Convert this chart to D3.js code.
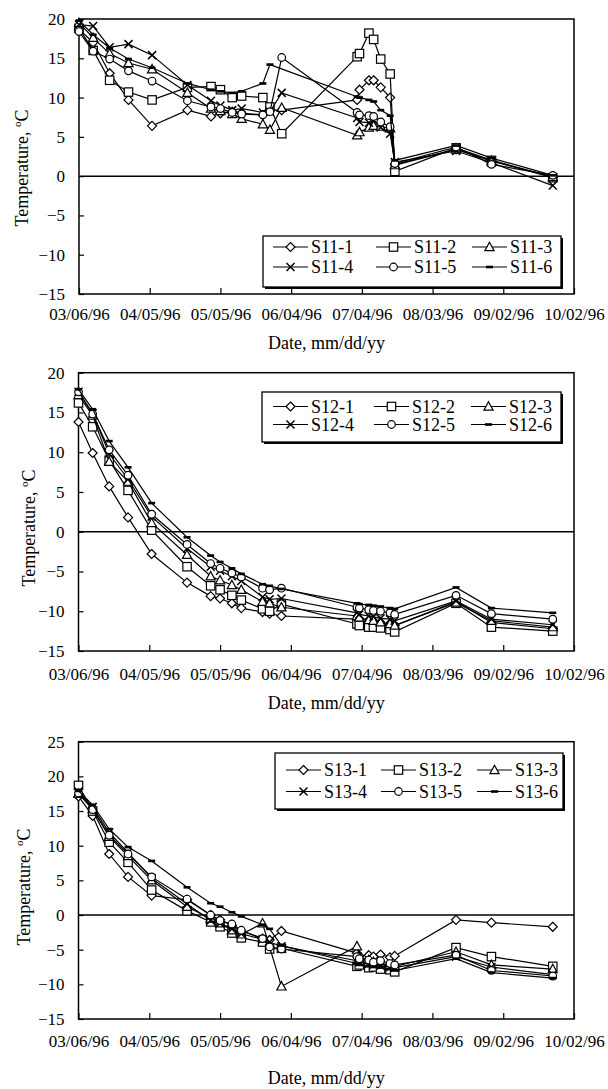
<!DOCTYPE html>
<html>
<head>
<meta charset="utf-8">
<script src="https://cdn.jsdelivr.net/npm/d3@7"></script>
<style>
  body { margin: 0; background: #fff; }
  text { font-family: "Liberation Serif", "Times New Roman", serif; fill: #000; }
</style>
</head>
<body>
<svg id="chart" width="608" height="1089"></svg>
<script>
// sampling dates (shared by all three sites)
const dates = ["03/06/96","03/12/96","03/19/96","03/27/96","04/06/96","04/21/96","05/01/96","05/05/96",
    "05/10/96","05/14/96","05/23/96","05/26/96","05/31/96","07/02/96","07/03/96","07/07/96","07/09/96",
    "07/12/96","07/16/96","07/18/96","08/13/96","08/28/96","09/23/96"]

const xTicks = ["03/06/96","04/05/96","05/05/96","06/04/96","07/04/96","08/03/96","09/02/96","10/02/96"]
const markers = ["diamond", "square", "triangle", "x", "circle", "dash"]

// site S11
const s11Names = ["S11-1","S11-2","S11-3","S11-4","S11-5","S11-6"]
const s11_1 = [18.7,17.0,13.1,9.7,6.4,8.4,7.6,8.0,8.2,8.0,7.8,8.4,8.4,9.7,11.0,12.2,12.2,11.3,10.0,1.5,3.4,2.0,-0.1]
const s11_2 = [18.8,16.0,12.2,10.7,9.7,11.3,11.4,11.0,10.0,10.2,10.0,8.8,5.4,15.2,15.6,18.2,17.4,14.9,13.0,0.6,3.6,2.0,-0.2]
const s11_3 = [19.5,17.6,15.6,14.4,13.6,10.6,8.6,8.3,7.9,7.3,6.6,5.9,8.7,5.2,5.6,6.2,6.4,6.3,6.1,1.4,3.4,1.9,-0.1]
const s11_4 = [19.3,19.1,16.4,16.8,15.4,11.6,9.6,9.0,8.4,8.6,8.1,8.2,10.6,7.4,6.9,6.8,7.1,6.2,5.4,1.8,3.2,1.7,-1.2]
const s11_5 = [18.4,15.9,14.9,13.4,12.1,9.6,8.8,8.6,8.1,7.9,7.8,8.2,15.1,8.1,7.8,7.7,7.6,6.9,6.3,1.6,3.7,1.5,0.1]
const s11_6 = [19.8,18.0,16.3,14.9,13.8,11.8,11.0,10.8,10.6,10.8,11.8,14.2,null,10.1,10.0,9.7,9.5,8.4,7.7,2.0,3.9,2.3,0.1]

// site S12
const s12Names = ["S12-1","S12-2","S12-3","S12-4","S12-5","S12-6"]
const s12_1 = [13.8,9.9,5.7,1.8,-2.8,-6.4,-8.1,-8.4,-9.0,-9.6,-10.1,-10.3,-10.6,-11.0,-11.1,-11.3,-11.4,-11.5,-11.7,-11.8,-8.8,-11.4,-12.2]
const s12_2 = [16.2,13.2,9.0,5.2,0.2,-4.4,-6.8,-7.3,-8.0,-8.6,-9.7,-10.0,-9.1,-11.6,-11.8,-12.0,-12.0,-12.1,-12.3,-12.6,-9.0,-12.0,-12.5]
const s12_3 = [17.2,14.6,8.8,6.3,1.1,-2.9,-5.6,-6.1,-6.7,-7.3,-8.8,-9.0,-9.5,-10.6,-10.8,-11.1,-11.2,-11.4,-11.6,-11.8,-8.9,-11.2,-12.0]
const s12_4 = [17.6,14.9,9.8,6.6,1.9,-2.1,-4.4,-4.9,-5.6,-6.2,-8.2,-8.5,-8.4,-10.2,-10.4,-10.6,-10.7,-10.9,-11.0,-11.2,-8.7,-11.0,-11.7]
const s12_5 = [17.6,14.8,10.3,7.1,2.2,-1.6,-4.0,-4.6,-5.2,-5.7,-7.1,-7.3,-7.1,-9.5,-9.6,-9.8,-9.9,-10.0,-10.2,-10.4,-8.0,-10.3,-11.0]
const s12_6 = [17.9,15.4,11.4,8.1,3.6,-0.7,-3.0,-3.8,-4.6,-5.3,-6.6,-6.8,-7.2,-9.0,-9.1,-9.2,-9.3,-9.4,-9.6,-9.7,-7.0,-9.6,-10.2]

// site S13
const s13Names = ["S13-1","S13-2","S13-3","S13-4","S13-5","S13-6"]
const s13_1 = [17.1,14.3,8.8,5.5,2.8,2.2,0.0,-0.7,-1.5,-2.3,-3.4,-3.6,-2.3,-5.5,-5.9,-5.8,-6.0,-5.7,-6.1,-5.9,-0.7,-1.1,-1.7]
const s13_2 = [18.7,15.0,10.5,7.6,3.6,0.6,-1.0,-1.7,-2.6,-3.3,-3.9,-4.9,-4.8,-7.4,-7.2,-7.6,-7.5,-7.8,-7.9,-8.2,-4.7,-6.0,-7.4]
const s13_3 = [17.5,15.3,11.3,8.5,5.0,1.2,-0.5,-1.2,-2.2,-2.8,-1.2,null,-10.3,-4.5,-6.0,-6.5,-6.8,-7.0,-7.2,-7.4,-5.3,-7.2,-7.8]
const s13_4 = [17.8,15.6,11.9,9.0,5.3,1.6,-0.8,-1.2,-2.0,-2.7,-3.5,-3.9,-4.5,-6.6,-6.8,-7.0,-7.2,-7.3,-7.5,-7.6,-6.0,-7.5,-8.6]
const s13_5 = [17.6,15.2,11.5,8.8,5.5,2.3,0.0,-0.8,-1.3,-2.2,-3.4,-4.6,-4.9,-6.0,-6.3,-6.5,-6.8,-6.6,-7.0,-7.2,-5.8,-8.0,-8.8]
const s13_6 = [17.9,15.9,12.4,9.8,7.8,4.0,1.7,1.2,0.4,-0.2,-1.4,-2.0,-4.4,-7.0,-7.2,-7.4,-7.5,-7.6,-7.8,-8.0,-6.3,-8.3,-9.1]

const parseDate = d3.timeParse("%m/%d/%y")
const formatDate = d3.timeFormat("%m/%d/%y")

const panels = [
    { names: s11Names, series: [s11_1, s11_2, s11_3, s11_4, s11_5, s11_6], yDomain: [-15, 20],
      left: 79, right: 574, top: 19, bottom: 294, tickBase: 320, titleBase: 349, yLabelX: 28, yLabelY: 168,
      legend: { x: 263, y: 236, w: 298, h: 51, rows: [247, 267], cols: [273, 376, 472] } },
    { names: s12Names, series: [s12_1, s12_2, s12_3, s12_4, s12_5, s12_6], yDomain: [-15, 20],
      left: 78.5, right: 574, top: 372.7, bottom: 651, tickBase: 680, titleBase: 709, yLabelX: 35, yLabelY: 528,
      legend: { x: 262, y: 392, w: 299, h: 50, rows: [406.5, 424.5], cols: [273, 374, 471] } },
    { names: s13Names, series: [s13_1, s13_2, s13_3, s13_4, s13_5, s13_6], yDomain: [-15, 25],
      left: 78.5, right: 574, top: 741.7, bottom: 1019, tickBase: 1047, titleBase: 1084, yLabelX: 30, yLabelY: 887,
      legend: { x: 275, y: 753, w: 288, h: 56, rows: [770, 791.5], cols: [286, 381, 477] } }
]

const svg = d3.select("#chart")

function drawMarker(g, type, cx, cy) {
    if (type === "diamond") {
        g.append("path").attr("d", `M${cx},${cy - 4.5}L${cx + 4.5},${cy}L${cx},${cy + 4.5}L${cx - 4.5},${cy}Z`)
            .attr("fill", "#fff").attr("stroke", "#000").attr("stroke-width", 1.2)
    } else if (type === "square") {
        g.append("rect").attr("x", cx - 4.2).attr("y", cy - 4.2).attr("width", 8.4).attr("height", 8.4)
            .attr("fill", "#fff").attr("stroke", "#000").attr("stroke-width", 1.2)
    } else if (type === "triangle") {
        g.append("path").attr("d", `M${cx},${cy - 4.8}L${cx + 4.6},${cy + 3.6}L${cx - 4.6},${cy + 3.6}Z`)
            .attr("fill", "#fff").attr("stroke", "#000").attr("stroke-width", 1.2)
    } else if (type === "x") {
        g.append("path").attr("d", `M${cx - 4},${cy - 4}L${cx + 4},${cy + 4}M${cx - 4},${cy + 4}L${cx + 4},${cy - 4}`)
            .attr("stroke", "#000").attr("stroke-width", 1.5)
    } else if (type === "circle") {
        g.append("circle").attr("cx", cx).attr("cy", cy).attr("r", 3.8)
            .attr("fill", "#fff").attr("stroke", "#000").attr("stroke-width", 1.2)
    } else {
        g.append("rect").attr("x", cx - 3.5).attr("y", cy - 1.3).attr("width", 7).attr("height", 2.6)
            .attr("fill", "#000")
    }
}

const drawPanel = (p) => {
    const x = d3.scaleTime()
        .domain([parseDate(xTicks[0]), parseDate(xTicks[xTicks.length - 1])])
        .range([p.left, p.right])
    const y = d3.scaleLinear().domain(p.yDomain).range([p.bottom, p.top])

    const g = svg.append("g")

    // x-axis, ticks pointing inward
    const bottomAxis = d3.axisBottom(x)
        .tickValues(xTicks.map(parseDate))
        .tickFormat(formatDate)
        .tickSizeInner(-6)
        .tickSizeOuter(0)
    const xg = g.append("g")
        .attr("transform", `translate(0,${p.bottom})`)
        .call(bottomAxis)
    xg.select(".domain").remove()
    xg.selectAll(".tick line").attr("stroke", "#000").attr("stroke-width", 1.2)
    xg.selectAll(".tick text")
        .attr("y", p.tickBase - p.bottom).attr("dy", null)
        .style("font-family", '"Liberation Serif", serif').style("font-size", "17px")

    // y-axis
    const ticksY = d3.range(p.yDomain[0], p.yDomain[1] + 1, 5)
    const leftAxis = d3.axisLeft(y)
        .tickValues(ticksY)
        .tickSizeInner(-5)
        .tickSizeOuter(0)
        .tickPadding(14)
    const yg = g.append("g")
        .attr("transform", `translate(${p.left},0)`)
        .call(leftAxis)
    yg.select(".domain").remove()
    yg.selectAll(".tick line").attr("stroke", "#000").attr("stroke-width", 1.2)
    yg.selectAll(".tick text")
        .style("font-family", '"Liberation Serif", serif').style("font-size", "17px")

    // zero line
    g.append("line")
        .attr("x1", p.left).attr("x2", p.right)
        .attr("y1", y(0)).attr("y2", y(0))
        .attr("stroke", "#000").attr("stroke-width", 1.5)

    // plot frame
    g.append("rect")
        .attr("x", p.left).attr("y", p.top)
        .attr("width", p.right - p.left).attr("height", p.bottom - p.top)
        .attr("fill", "none").attr("stroke", "#000").attr("stroke-width", 1.5)

    // series
    const line = d3.line().x(d => x(d.date)).y(d => y(d.v))
    p.series.forEach((vals, i) => {
        const pts = dates.map((d, k) => ({ date: parseDate(d), v: vals[k] })).filter(d => d.v != null)
        const sg = g.append("g")
        sg.append("path")
            .attr("d", line(pts))
            .attr("fill", "none").attr("stroke", "#000").attr("stroke-width", 1.2)
        pts.forEach(d => drawMarker(sg, markers[i], x(d.date), y(d.v)))
    })

    // axis titles
    g.append("text")
        .attr("x", (p.left + p.right) / 2).attr("y", p.titleBase)
        .attr("text-anchor", "middle")
        .style("font-size", "18px")
        .text("Date, mm/dd/yy")

    const yl = g.append("text")
        .attr("transform", `translate(${p.yLabelX},${p.yLabelY}) rotate(-90)`)
        .attr("text-anchor", "middle")
        .style("font-size", "18px")
    yl.append("tspan").text("Temperature, ")
    yl.append("tspan").attr("dy", -7).style("font-size", "11px").text("o")
    yl.append("tspan").attr("dy", 7).text("C")

    // legend
    const L = p.legend
    const lg = g.append("g")
    lg.append("rect")
        .attr("x", L.x + 2).attr("y", L.y + 2).attr("width", L.w).attr("height", L.h)
        .attr("fill", "#000")
    lg.append("rect")
        .attr("x", L.x).attr("y", L.y).attr("width", L.w).attr("height", L.h)
        .attr("fill", "#fff").attr("stroke", "#000").attr("stroke-width", 1.3)
    p.names.forEach((name, i) => {
        const cx = L.cols[i % 3]
        const cy = L.rows[Math.floor(i / 3)]
        lg.append("line")
            .attr("x1", cx).attr("x2", cx + 35).attr("y1", cy).attr("y2", cy)
            .attr("stroke", "#000").attr("stroke-width", 1.2)
        drawMarker(lg, markers[i], cx + 17.5, cy)
        lg.append("text")
            .attr("x", cx + 38).attr("y", cy + 6)
            .style("font-size", "18px")
            .text(name)
    })
}

panels.forEach(drawPanel)
</script>
</body>
</html>
